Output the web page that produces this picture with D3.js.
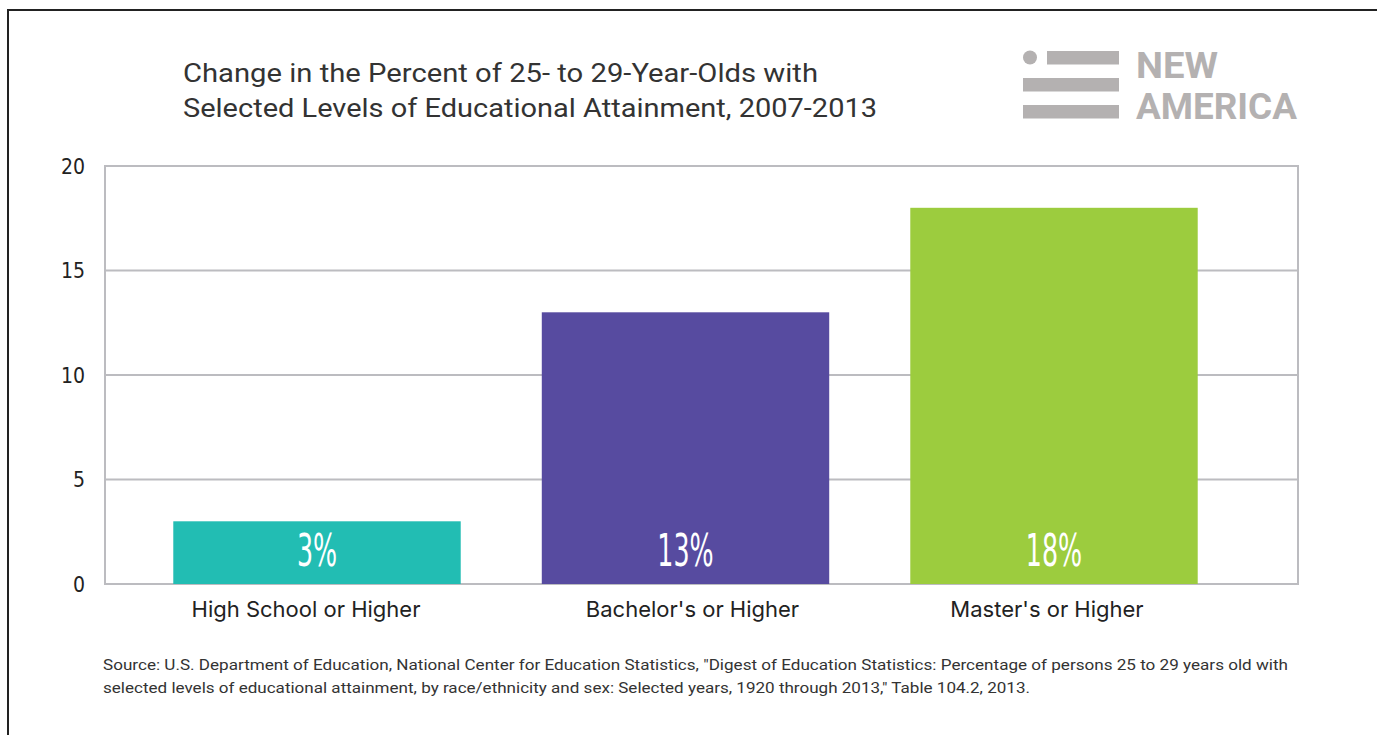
<!DOCTYPE html>
<html><head><meta charset="utf-8">
<script src="https://cdn.jsdelivr.net/npm/d3@7"></script>
<style>body{margin:0;background:#fff}svg{display:block}</style>
</head><body>
<svg id="c" width="1377" height="735"></svg>
<script>
const categories = ["High School or Higher", "Bachelor's or Higher", "Master's or Higher"];
const values = [3, 13, 18];
const barColors = ["#22bdb3", "#574ba0", "#9ccc3e"];
const yTicks = [0, 5, 10, 15, 20];
const titleLines = ["Change in the Percent of 25- to 29-Year-Olds with", "Selected Levels of Educational Attainment, 2007-2013"];
const sourceLines = ["Source: U.S. Department of Education, National Center for Education Statistics, \"Digest of Education Statistics: Percentage of persons 25 to 29 years old with",
  "selected levels of educational attainment, by race/ethnicity and sex: Selected years, 1920 through 2013,\" Table 104.2, 2013."];

const svg = d3.select("#c");
const cond = "'DejaVu Sans Condensed','Liberation Sans Narrow','DejaVu Sans',sans-serif";
const main = "Roboto, 'Noto Sans', sans-serif";
const labelFont = "Inter, Roboto, sans-serif";

// frame
svg.append("path").attr("d", "M8,735 V10 H1377").attr("fill", "none").attr("stroke", "#222").attr("stroke-width", 2);

// title
svg.append("g").selectAll("text").data(titleLines).join("text")
  .attr("x", 183).attr("y", (d, i) => 82 + i * 35)
  .attr("font-family", main).attr("font-size", 26).attr("fill", "#333")
  .attr("textLength", (d, i) => i === 0 ? 635 : 694).attr("lengthAdjust", "spacingAndGlyphs")
  .text(d => d);

// logo
const logo = svg.append("g").attr("fill", "#b4b1b1");
logo.append("circle").attr("cx", 1030).attr("cy", 57.5).attr("r", 7);
logo.append("rect").attr("x", 1047).attr("y", 51).attr("width", 72).attr("height", 13.5);
logo.append("rect").attr("x", 1023).attr("y", 78).attr("width", 96).attr("height", 13.5);
logo.append("rect").attr("x", 1023).attr("y", 105).attr("width", 96).attr("height", 13.5);
logo.append("text").attr("x", 1136).attr("y", 78).attr("font-family", main).attr("font-weight", 700)
  .attr("font-size", 37).attr("textLength", 82).attr("lengthAdjust", "spacingAndGlyphs").text("NEW");
logo.append("text").attr("x", 1136).attr("y", 118.5).attr("font-family", main).attr("font-weight", 700)
  .attr("font-size", 37).attr("textLength", 161).attr("lengthAdjust", "spacingAndGlyphs").text("AMERICA");

// scales
const plotL = 105, plotR = 1298, plotT = 166, plotB = 584;
const y = d3.scaleLinear().domain([0, 20]).range([plotB, plotT]);
const x = d3.scaleBand().domain(categories).range([132.75, 1238.25]).paddingInner(0.22).paddingOuter(0.11);

// grid
const grid = svg.append("g");
grid.selectAll("line").data(yTicks).join("line")
  .attr("x1", plotL).attr("x2", plotR).attr("y1", d => y(d)).attr("y2", d => y(d))
  .attr("stroke", "#bcbcc0").attr("stroke-width", 2);
grid.append("line").attr("x1", plotL).attr("x2", plotL).attr("y1", plotT - 1).attr("y2", plotB + 1).attr("stroke", "#bcbcc0").attr("stroke-width", 2);
grid.append("line").attr("x1", plotR).attr("x2", plotR).attr("y1", plotT - 1).attr("y2", plotB + 1).attr("stroke", "#bcbcc0").attr("stroke-width", 2);

// y axis labels
const yAxis = svg.append("g").attr("transform", `translate(85,0)`)
  .call(d3.axisLeft(y).tickValues(yTicks).tickSize(0).tickPadding(0));
yAxis.select(".domain").remove();
yAxis.selectAll("text").attr("font-family", cond).attr("font-size", 21).attr("fill", "#222")
  .attr("dy", "0.35em");

// bars
svg.append("g").selectAll("rect").data(values).join("rect")
  .attr("x", (d, i) => x(categories[i])).attr("width", x.bandwidth())
  .attr("y", d => y(d)).attr("height", d => y(0) - y(d))
  .attr("fill", (d, i) => barColors[i]);

// bar labels
svg.append("g").selectAll("text").data(values).join("text")
  .attr("transform", (d, i) => `translate(${x(categories[i]) + x.bandwidth() / 2},566) scale(0.64,1)`)
  .attr("text-anchor", "middle").attr("font-family", cond).attr("font-size", 44)
  .attr("fill", "#fff").text(d => d + "%");

// x axis labels
const xAxis = svg.append("g").attr("transform", `translate(0,${plotB})`)
  .call(d3.axisBottom(x).tickSize(0).tickPadding(0));
xAxis.select(".domain").remove();
xAxis.selectAll("text").attr("font-family", labelFont).attr("font-size", 22).attr("fill", "#222")
  .attr("dy", 0).attr("y", 33).attr("dx", (d, i) => [-11, 7, -7][i]);

// source
svg.append("g").selectAll("text").data(sourceLines).join("text")
  .attr("x", 103).attr("y", (d, i) => 670 + i * 23)
  .attr("font-family", main).attr("font-size", 15).attr("fill", "#333")
  .attr("textLength", (d, i) => i === 0 ? 1185 : 927).attr("lengthAdjust", "spacingAndGlyphs")
  .text(d => d);
</script>
</body></html>
